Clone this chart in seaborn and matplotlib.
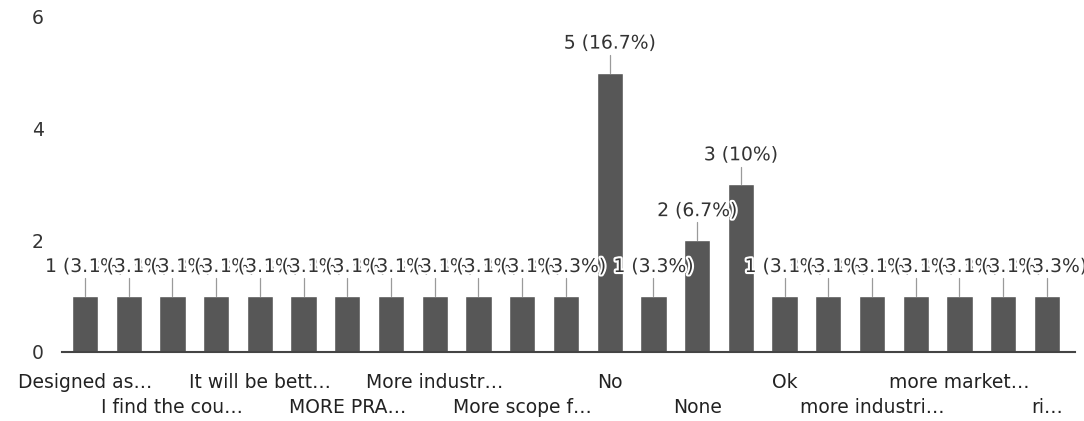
import matplotlib
matplotlib.use("Agg")
import matplotlib.pyplot as plt
import matplotlib.patheffects as pe
import seaborn as sns

# Responses (only every second label is shown on the axis, as in the original)
tick_labels = ["Designed as…", "", "I find the cou…", "", "It will be bett…", "",
               "MORE PRA…", "", "More industr…", "", "More scope f…", "",
               "No", "", "None", "", "Ok", "", "more industri…", "",
               "more market…", "", "ri…"]
counts = [1, 1, 1, 1, 1, 1, 1, 1, 1, 1, 1, 1,
          5, 1, 2, 3,
          1, 1, 1, 1, 1, 1, 1]
y_ticks = [0, 2, 4, 6]

total = sum(counts)
positions = list(range(len(counts)))

sns.set_style("white")
plt.rcParams['font.family'] = ['DejaVu Sans']

fig = plt.figure(figsize=(10.84, 4.21), dpi=100)
ax = fig.add_axes([0.057, 0.164, 0.935, 0.796])

sns.barplot(x=positions, y=counts, color="#575757", saturation=1, width=0.6, ax=ax)

# value labels with small leader lines and a white halo
for i, c in enumerate(counts):
    pct = round(c / total * 100, 1)
    txt = f"{c} ({pct:g}%)"
    ax.plot([i, i], [c, c + 0.32], color="#9a9a9a", lw=0.9, zorder=2)
    ax.text(i, c + 0.36, txt, ha="center", va="bottom", fontsize=13.5,
            color="#333333", zorder=3,
            path_effects=[pe.withStroke(linewidth=3, foreground="white")])

ax.set_ylim(0, 6)
ax.set_xlim(-0.53, 22.65)
ax.set_yticks(y_ticks)
ax.set_yticklabels([str(t) for t in y_ticks], fontsize=13.5, color="#333333")
ax.tick_params(axis="y", length=0, pad=13)

ax.set_xticks(positions)
ax.set_xticklabels([])
ax.tick_params(axis="x", length=0)
shown = [i for i, t in enumerate(tick_labels) if t]
for k, i in enumerate(shown):
    ax.annotate(tick_labels[i], xy=(i, 0), xycoords=("data", "axes fraction"),
                xytext=(0, -22 if k % 2 == 0 else -40), textcoords="offset points",
                ha="center", va="center", fontsize=13.5, color="#222222",
                annotation_clip=False)

for side in ["top", "right", "left"]:
    ax.spines[side].set_visible(False)
ax.spines["bottom"].set_color("#444444")
ax.spines["bottom"].set_linewidth(1.5)
ax.set_xlabel("")
ax.set_ylabel("")

fig.savefig("out.png", dpi=100)
